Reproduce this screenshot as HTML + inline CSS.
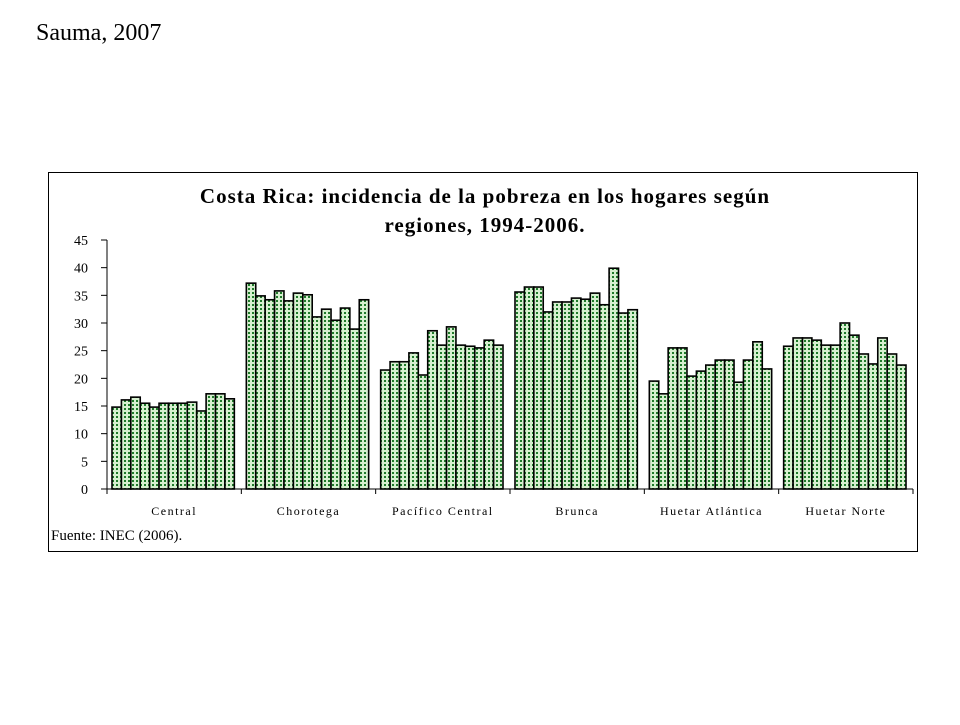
<!DOCTYPE html>
<html><head><meta charset="utf-8"><style>
body{margin:0;background:#fff;width:960px;height:720px;overflow:hidden;font-family:"Liberation Serif",serif}
</style></head><body>
<svg width="960" height="720" xmlns="http://www.w3.org/2000/svg" font-family="Liberation Serif, serif">
<defs>
<pattern id="dots" width="4" height="4" patternUnits="userSpaceOnUse">
<rect width="4" height="4" fill="#d6f0cf"/>
<rect x="0" y="0" width="2" height="2" fill="#1f7a2a"/>
</pattern>
</defs>
<text x="36" y="40" font-size="24">Sauma, 2007</text>
<rect x="48.5" y="172.5" width="869" height="379" fill="#fff" stroke="#000"/>
<text x="485" y="203" font-size="21" font-weight="bold" text-anchor="middle" letter-spacing="1">Costa Rica: incidencia de la pobreza en los hogares según</text>
<text x="485" y="232" font-size="21" font-weight="bold" text-anchor="middle" letter-spacing="1">regiones, 1994-2006.</text>
<g id="plot"></g>
<text x="51" y="540" font-size="15">Fuente: INEC (2006).</text>
<script>
const categories=["Central","Chorotega","Pacífico Central","Brunca","Huetar Atlántica","Huetar Norte"];
const central=[14.8,16.1,16.6,15.5,14.8,15.5,15.5,15.5,15.7,14.1,17.2,17.2,16.3];
const chorotega=[37.2,34.9,34.2,35.8,34.0,35.4,35.1,31.1,32.5,30.5,32.7,28.9,34.2];
const pacifico=[21.5,23.0,23.0,24.6,20.6,28.6,26.0,29.3,26.0,25.8,25.5,26.9,26.0];
const brunca=[35.6,36.5,36.5,32.0,33.8,33.8,34.5,34.3,35.4,33.3,39.9,31.8,32.4];
const huetarAtl=[19.5,17.2,25.5,25.5,20.4,21.3,22.4,23.3,23.3,19.3,23.3,26.6,21.7];
const huetarNorte=[25.8,27.3,27.3,26.9,26.0,26.0,30.0,27.8,24.4,22.6,27.3,24.4,22.4];
const yTicks=[0,5,10,15,20,25,30,35,40,45];
const series=[central,chorotega,pacifico,brunca,huetarAtl,huetarNorte];
const NS="http://www.w3.org/2000/svg";
const g=document.getElementById('plot');
const x0=107,x1=913,y0=489,yTop=240,yMax=45;
const gw=(x1-x0)/categories.length;
const y=v=>y0-(v/yMax)*(y0-yTop);
function el(t,a){const e=document.createElementNS(NS,t);for(const k in a)e.setAttribute(k,a[k]);g.appendChild(e);return e;}
series.forEach((arr,gi)=>{
  const n=arr.length,bw=(gw-12)/n,start=x0+gi*gw+5;
  arr.forEach((v,i)=>{
    const r=el('rect',{x:start+i*bw,y:y(v),width:bw,height:y0-y(v),fill:'url(#dots)',stroke:'#000','stroke-width':1.6});
    
    
  });
  const lb=el('text',{x:x0+gi*gw+gw/2,y:515,'font-size':12,'text-anchor':'middle','letter-spacing':1.5});
  lb.textContent=categories[gi];
  
  
});
const ax=el('path',{d:`M${x0},${yTop}V${y0}H${x1}`,stroke:'#000',fill:'none','stroke-width':1});


for(let i=0;i<=categories.length;i++){
  const t=el('line',{x1:x0+i*gw,x2:x0+i*gw,y1:y0,y2:y0+5,stroke:'#000'});
  
  
}
yTicks.forEach(v=>{
  const t=el('line',{x1:x0-6,x2:x0,y1:y(v),y2:y(v),stroke:'#000'});
  
  
  const l=el('text',{x:88,y:y(v)+5,'font-size':14,'text-anchor':'end'});
  l.textContent=v;
  
  
});
</script>
</svg>
</body></html>
